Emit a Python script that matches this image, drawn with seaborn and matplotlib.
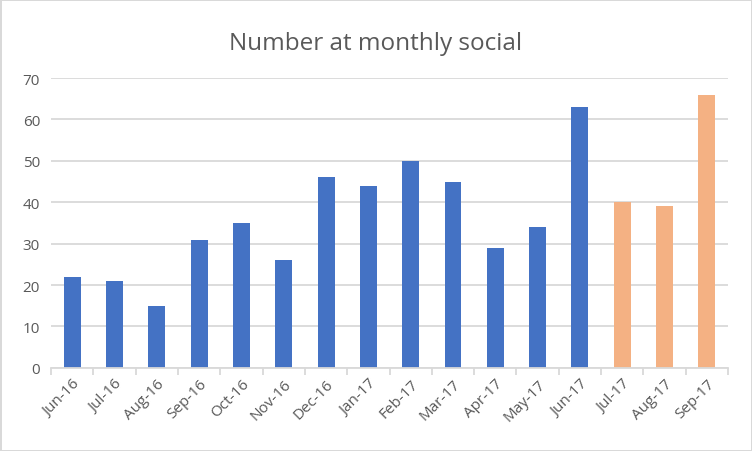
import matplotlib.pyplot as plt
from matplotlib.ticker import MultipleLocator
import seaborn as sns
import pandas as pd

# monthly attendance, last three months are forecast (orange)
months = ['Jun-16', 'Jul-16', 'Aug-16', 'Sep-16', 'Oct-16', 'Nov-16', 'Dec-16', 'Jan-17',
          'Feb-17', 'Mar-17', 'Apr-17', 'May-17', 'Jun-17', 'Jul-17', 'Aug-17', 'Sep-17']
attendance = [22, 21, 15, 31, 35, 26, 46, 44, 50, 45, 29, 34, 63, 40, 39, 66]
kind = ['actual'] * 13 + ['forecast'] * 3

df = pd.DataFrame({'month': months, 'number': attendance, 'kind': kind})

sns.set_theme(style="white")
plt.rcParams['font.family'] = ['Open Sans', 'DejaVu Sans']

fig = plt.figure(figsize=(7.52, 4.52), dpi=100, edgecolor='#d9d9d9', linewidth=2)
ax = fig.add_axes([0.068, 0.184, 0.900, 0.641])

sns.barplot(ax=ax, data=df, x='month', y='number', hue='kind',
            palette={'actual': '#4472c4', 'forecast': '#f4b183'},
            width=0.4, dodge=False, legend=False, saturation=1, linewidth=0)

ax.set_ylim(0, 70)
ax.set_xlim(-0.5, len(months) - 0.5)
ax.yaxis.set_major_locator(MultipleLocator(10))
ax.grid(axis='y', color='#d9d9d9', linewidth=1.3)
ax.set_axisbelow(True)
for side in ['top', 'right', 'left']:
    ax.spines[side].set_visible(False)
ax.spines['bottom'].set_color('#d9d9d9')
ax.spines['bottom'].set_linewidth(1.3)

ax.xaxis.set_minor_locator(MultipleLocator(1, offset=0.5))
ax.tick_params(axis='x', which='major', length=0, pad=6)
ax.tick_params(axis='x', which='minor', bottom=True, length=5, color='#d9d9d9', width=1.3)
ax.tick_params(axis='y', length=0, pad=8)
for lbl in ax.get_xticklabels():
    lbl.set_rotation(45)
    lbl.set_ha('right')
    lbl.set_rotation_mode('anchor')
ax.tick_params(labelsize=11, labelcolor='#595959')

ax.set_xlabel('')
ax.set_ylabel('')
fig.suptitle('Number at monthly social', y=0.93, fontsize=17.5, color='#595959')

fig.savefig('out.png', dpi=100, edgecolor=fig.get_edgecolor())
